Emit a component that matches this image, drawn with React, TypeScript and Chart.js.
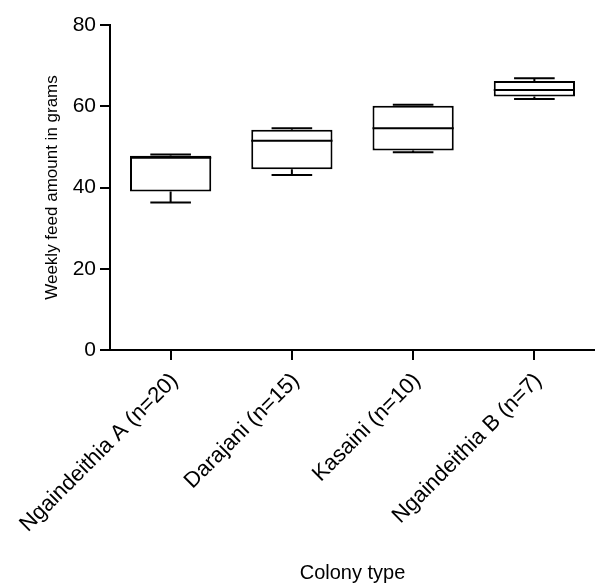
import React, { useEffect, useRef } from "react";
import { Chart, registerables } from "chart.js";

Chart.register(...registerables);

const categories = ["Ngaindeithia A (n=20)", "Darajani (n=15)", "Kasaini (n=10)", "Ngaindeithia B (n=7)"];
const minValues = [36.3, 43.1, 48.7, 61.8];
const q1Values = [39.0, 44.5, 49.1, 62.4];
const medianValues = [47.3, 51.5, 54.6, 64.0];
const q3Values = [47.8, 54.2, 60.1, 66.2];
const maxValues = [48.1, 54.6, 60.4, 66.9];
const yTicks = [0, 20, 40, 60, 80];

const FONT = "'Liberation Sans', Arial, Helvetica, sans-serif";

const boxPlugin = {
  id: "boxWhiskers",
  afterDatasetsDraw(chart: any) {
    const meta = chart.getDatasetMeta(0);
    const y = chart.scales.y;
    const ctx = chart.ctx;
    ctx.save();
    ctx.strokeStyle = "#000";
    ctx.lineWidth = 2;
    meta.data.forEach((bar: any, i: number) => {
      const cx = bar.x;
      const hw = bar.width / 2;
      const cap = hw / 2;
      const yMin = y.getPixelForValue(minValues[i]);
      const yQ1 = y.getPixelForValue(q1Values[i]);
      const yMed = y.getPixelForValue(medianValues[i]);
      const yQ3 = y.getPixelForValue(q3Values[i]);
      const yMax = y.getPixelForValue(maxValues[i]);
      ctx.beginPath();
      ctx.moveTo(cx - hw, yMed);
      ctx.lineTo(cx + hw, yMed);
      ctx.moveTo(cx, yQ1);
      ctx.lineTo(cx, yMin);
      ctx.moveTo(cx - cap, yMin);
      ctx.lineTo(cx + cap, yMin);
      ctx.moveTo(cx, yQ3);
      ctx.lineTo(cx, yMax);
      ctx.moveTo(cx - cap, yMax);
      ctx.lineTo(cx + cap, yMax);
      ctx.stroke();
    });
    ctx.restore();
  },
};

export default function App() {
  const ref = useRef<HTMLCanvasElement | null>(null);
  useEffect(() => {
    if (!ref.current) return;
    const chart = new Chart(ref.current, {
      type: "bar",
      data: {
        labels: categories,
        datasets: [
          {
            data: q1Values.map((v, i) => [v, q3Values[i]]) as any,
            backgroundColor: "#ffffff",
            borderColor: "#000000",
            borderWidth: 2,
            borderSkipped: false,
            barPercentage: 0.67,
            categoryPercentage: 1,
          },
        ],
      },
      options: {
        animation: false,
        responsive: true,
        maintainAspectRatio: false,
        layout: { padding: { top: 25, right: 0, bottom: 0, left: 0 } },
        plugins: { legend: { display: false }, tooltip: { enabled: false } },
        scales: {
          x: {
            offset: true,
            afterFit: (s: any) => {
              s.height = 233;
              s.paddingLeft = 0;
              s.paddingRight = 0;
            },
            grid: {
              display: true,
              offset: false,
              drawOnChartArea: false,
              drawTicks: true,
              tickLength: 10,
              color: "#000",
              lineWidth: 2,
            },
            border: { display: true, color: "#000", width: 2 },
            ticks: {
              color: "#000",
              font: { family: FONT, size: 22 },
              minRotation: 45,
              maxRotation: 45,
              padding: 8,
              labelOffset: 4,
              autoSkip: false,
            },
            title: {
              display: true,
              text: "Colony type",
              color: "#000",
              font: { family: FONT, size: 20, lineHeight: 1 },
              padding: { top: 0, bottom: 0 },
            },
          },
          y: {
            min: 0,
            max: 80,
            afterFit: (s: any) => {
              s.width = 110;
            },
            afterBuildTicks: (s: any) => {
              s.ticks = yTicks.map((v) => ({ value: v }));
            },
            grid: {
              display: true,
              drawOnChartArea: false,
              drawTicks: true,
              tickLength: 10,
              color: "#000",
              lineWidth: 2,
            },
            border: { display: true, color: "#000", width: 2 },
            ticks: {
              color: "#000",
              font: { family: FONT, size: 21 },
              padding: 4,
            },
            title: {
              display: true,
              text: "Weekly feed amount in grams",
              color: "#000",
              font: { family: FONT, size: 17 },
              padding: { top: 42, bottom: 0 },
            },
          },
        },
      },
      plugins: [boxPlugin],
    });
    return () => chart.destroy();
  }, []);
  return (
    <div style={{ position: "fixed", left: 0, top: 0, width: 595, height: 583, background: "#fff" }}>
      <canvas ref={ref} />
    </div>
  );
}
